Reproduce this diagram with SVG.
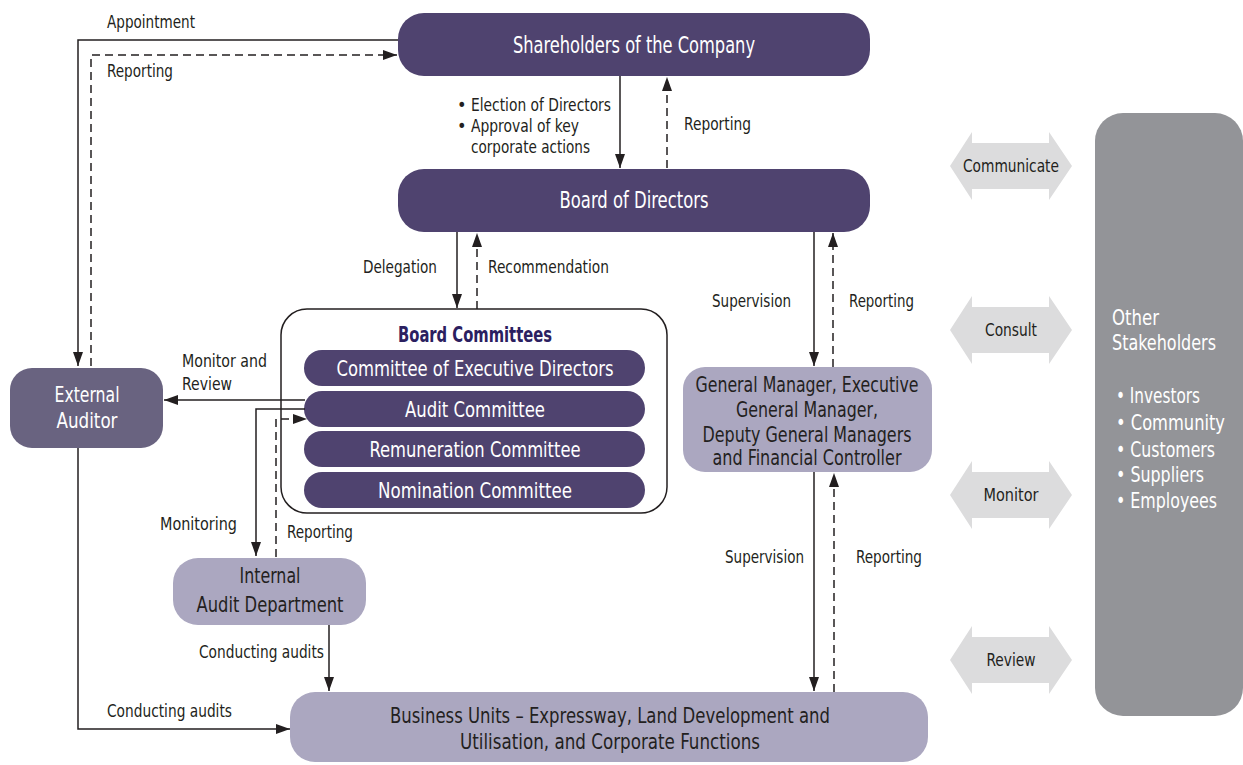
<svg xmlns="http://www.w3.org/2000/svg" width="1243" height="765" viewBox="0 0 1243 765">
<style>
text{font-family:"DejaVu Sans Condensed","Liberation Sans",sans-serif;}
.dark{fill:#4f436f;}
.ext{fill:#696380;}
.light{fill:#aba7c0;}
.grey{fill:#939498;}
.dbl{fill:#dcdcdd;}
.wt{fill:#ffffff;font-size:21px;text-anchor:middle;}
.big{font-size:23px;}
.cm{font-size:22px;}
.bt{fill:#231f20;font-size:21px;text-anchor:middle;}
.lbl{fill:#231f20;font-size:18px;}
.albl{fill:#231f20;font-size:18px;text-anchor:middle;}
.st{fill:#ffffff;font-size:22px;}
.bl{fill:#ffffff;font-size:21px;}
.ln{fill:none;stroke:#231f20;stroke-width:1.5;}
.ds{fill:none;stroke:#231f20;stroke-width:1.5;stroke-dasharray:8,5;}
</style>
<defs>
<marker id="ah" markerWidth="14" markerHeight="10" refX="14" refY="5" orient="auto" markerUnits="userSpaceOnUse">
<path d="M0,0 L14,5 L0,10 z" fill="#231f20"/>
</marker>
</defs>
<g id="shareholders">
<rect class="dark" x="398" y="13" width="472" height="63" rx="26"/>
<text class="wt big" x="634" y="53" textLength="242" lengthAdjust="spacingAndGlyphs">Shareholders of the Company</text>
</g>
<g id="board">
<rect class="dark" x="398" y="169" width="472" height="63" rx="26"/>
<text class="wt big" x="634" y="208" textLength="149" lengthAdjust="spacingAndGlyphs">Board of Directors</text>
</g>
<g id="external-auditor">
<rect class="ext" x="10" y="368" width="153" height="80" rx="22"/>
<text class="wt cm" x="87" y="402" textLength="65" lengthAdjust="spacingAndGlyphs">External</text>
<text class="wt cm" x="87" y="428" textLength="61" lengthAdjust="spacingAndGlyphs">Auditor</text>
</g>
<g id="board-committees">
<rect x="281" y="309" width="386" height="204" rx="26" fill="#ffffff" stroke="#231f20" stroke-width="1.5"/>
<text x="475" y="342" font-size="21" font-weight="bold" fill="#2b2060" text-anchor="middle" textLength="154" lengthAdjust="spacingAndGlyphs">Board Committees</text>
</g>
<g id="committee-exec">
<rect class="dark" x="304" y="350" width="341" height="36" rx="18"/>
<text class="wt cm" x="475" y="376" textLength="277" lengthAdjust="spacingAndGlyphs">Committee of Executive Directors</text>
</g>
<g id="audit-committee">
<rect class="dark" x="304" y="391" width="341" height="36" rx="18"/>
<text class="wt cm" x="475" y="417" textLength="140" lengthAdjust="spacingAndGlyphs">Audit Committee</text>
</g>
<g id="remuneration-committee">
<rect class="dark" x="304" y="431" width="341" height="36" rx="18"/>
<text class="wt cm" x="475" y="457" textLength="211" lengthAdjust="spacingAndGlyphs">Remuneration Committee</text>
</g>
<g id="nomination-committee">
<rect class="dark" x="304" y="472" width="341" height="36" rx="18"/>
<text class="wt cm" x="475" y="498" textLength="194" lengthAdjust="spacingAndGlyphs">Nomination Committee</text>
</g>
<g id="general-manager">
<rect class="light" x="683" y="367" width="249" height="105" rx="22"/>
<text class="bt" x="807" y="392" textLength="223" lengthAdjust="spacingAndGlyphs">General Manager, Executive</text>
<text class="bt" x="807" y="417" textLength="142" lengthAdjust="spacingAndGlyphs">General Manager,</text>
<text class="bt" x="807" y="442" textLength="209" lengthAdjust="spacingAndGlyphs">Deputy General Managers</text>
<text class="bt" x="807" y="465" textLength="189" lengthAdjust="spacingAndGlyphs">and Financial Controller</text>
</g>
<g id="internal-audit">
<rect class="light" x="173" y="558" width="193" height="67" rx="25"/>
<text class="bt" x="270" y="583" textLength="61" lengthAdjust="spacingAndGlyphs">Internal</text>
<text class="bt" x="270" y="612" textLength="147" lengthAdjust="spacingAndGlyphs">Audit Department</text>
</g>
<g id="business-units">
<rect class="light" x="290" y="692" width="638" height="70" rx="25"/>
<text class="bt" x="610" y="723" textLength="440" lengthAdjust="spacingAndGlyphs">Business Units – Expressway, Land Development and</text>
<text class="bt" x="610" y="749" textLength="300" lengthAdjust="spacingAndGlyphs">Utilisation, and Corporate Functions</text>
</g>
<g id="other-stakeholders">
<rect class="grey" x="1095" y="113" width="148" height="603" rx="28"/>
<text class="st" x="1112" y="325" textLength="47" lengthAdjust="spacingAndGlyphs">Other</text>
<text class="st" x="1112" y="350" textLength="104" lengthAdjust="spacingAndGlyphs">Stakeholders</text>
<text class="bl" x="1116" y="403" textLength="84" lengthAdjust="spacingAndGlyphs">• Investors</text>
<text class="bl" x="1116" y="430" textLength="109" lengthAdjust="spacingAndGlyphs">• Community</text>
<text class="bl" x="1116" y="457" textLength="99" lengthAdjust="spacingAndGlyphs">• Customers</text>
<text class="bl" x="1116" y="482" textLength="88" lengthAdjust="spacingAndGlyphs">• Suppliers</text>
<text class="bl" x="1116" y="508" textLength="101" lengthAdjust="spacingAndGlyphs">• Employees</text>
</g>
<g id="communicate">
<polygon class="dbl" points="950,166 972,132 972,143 1049,143 1049,132 1072,166 1049,200 1049,189 972,189 972,200"/>
<text class="albl" x="1011" y="172" textLength="96" lengthAdjust="spacingAndGlyphs">Communicate</text>
</g>
<g id="consult">
<polygon class="dbl" points="950,330 972,296 972,307 1049,307 1049,296 1072,330 1049,364 1049,353 972,353 972,364"/>
<text class="albl" x="1011" y="336" textLength="52" lengthAdjust="spacingAndGlyphs">Consult</text>
</g>
<g id="monitor">
<polygon class="dbl" points="950,495 972,461 972,472 1049,472 1049,461 1072,495 1049,529 1049,518 972,518 972,529"/>
<text class="albl" x="1011" y="501" textLength="55" lengthAdjust="spacingAndGlyphs">Monitor</text>
</g>
<g id="review">
<polygon class="dbl" points="950,660 972,626 972,637 1049,637 1049,626 1072,660 1049,694 1049,683 972,683 972,694"/>
<text class="albl" x="1011" y="666" textLength="49" lengthAdjust="spacingAndGlyphs">Review</text>
</g>
<g id="connectors">
<path class="ln" d="M398,40 H78 V366" marker-end="url(#ah)"/>
<path class="ds" d="M91,366 V55 H397" marker-end="url(#ah)"/>
<path class="ln" d="M620,76 V168" marker-end="url(#ah)"/>
<path class="ds" d="M667,168 V77" marker-end="url(#ah)"/>
<path class="ln" d="M457,232 V308" marker-end="url(#ah)"/>
<path class="ds" d="M477,309 V233" marker-end="url(#ah)"/>
<path class="ln" d="M814,232 V366" marker-end="url(#ah)"/>
<path class="ds" d="M833,367 V233" marker-end="url(#ah)"/>
<path class="ln" d="M305,400 H164" marker-end="url(#ah)"/>
<path class="ln" d="M305,409 H256 V556" marker-end="url(#ah)"/>
<path class="ds" d="M276,557 V419 H307" marker-end="url(#ah)"/>
<path class="ln" d="M329,625 V691" marker-end="url(#ah)"/>
<path class="ln" d="M78,448 V729 H290" marker-end="url(#ah)"/>
<path class="ln" d="M814,472 V691" marker-end="url(#ah)"/>
<path class="ds" d="M834,692 V473" marker-end="url(#ah)"/>
<text class="lbl" x="107" y="28" textLength="88" lengthAdjust="spacingAndGlyphs">Appointment</text>
<text class="lbl" x="107" y="77" textLength="66" lengthAdjust="spacingAndGlyphs">Reporting</text>
<text class="lbl" x="457" y="111">•</text>
<text class="lbl" x="471" y="111" textLength="140" lengthAdjust="spacingAndGlyphs">Election of Directors</text>
<text class="lbl" x="457" y="132">•</text>
<text class="lbl" x="471" y="132" textLength="108" lengthAdjust="spacingAndGlyphs">Approval of key</text>
<text class="lbl" x="471" y="153" textLength="119" lengthAdjust="spacingAndGlyphs">corporate actions</text>
<text class="lbl" x="684" y="130" textLength="67" lengthAdjust="spacingAndGlyphs">Reporting</text>
<text class="lbl" x="363" y="273" textLength="74" lengthAdjust="spacingAndGlyphs">Delegation</text>
<text class="lbl" x="488" y="273" textLength="121" lengthAdjust="spacingAndGlyphs">Recommendation</text>
<text class="lbl" x="712" y="307" textLength="79" lengthAdjust="spacingAndGlyphs">Supervision</text>
<text class="lbl" x="849" y="307" textLength="65" lengthAdjust="spacingAndGlyphs">Reporting</text>
<text class="lbl" x="182" y="367" textLength="85" lengthAdjust="spacingAndGlyphs">Monitor and</text>
<text class="lbl" x="182" y="390" textLength="50" lengthAdjust="spacingAndGlyphs">Review</text>
<text class="lbl" x="160" y="530" textLength="77" lengthAdjust="spacingAndGlyphs">Monitoring</text>
<text class="lbl" x="287" y="538" textLength="66" lengthAdjust="spacingAndGlyphs">Reporting</text>
<text class="lbl" x="725" y="563" textLength="79" lengthAdjust="spacingAndGlyphs">Supervision</text>
<text class="lbl" x="856" y="563" textLength="66" lengthAdjust="spacingAndGlyphs">Reporting</text>
<text class="lbl" x="199" y="658" textLength="125" lengthAdjust="spacingAndGlyphs">Conducting audits</text>
<text class="lbl" x="107" y="717" textLength="125" lengthAdjust="spacingAndGlyphs">Conducting audits</text>
</g>
</svg>
